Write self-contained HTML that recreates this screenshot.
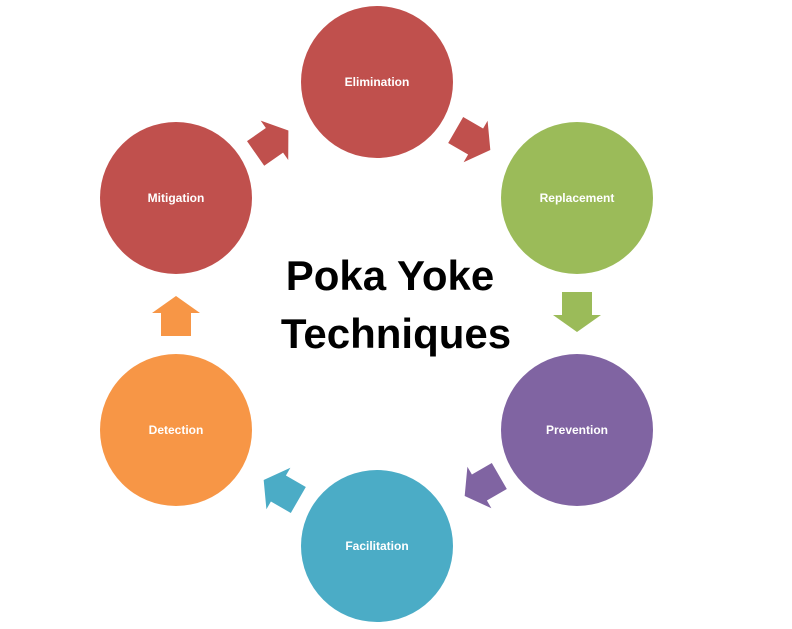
<!DOCTYPE html>
<html><head><style>
html,body{margin:0;padding:0;background:#fff;}
svg{display:block;}
</style></head><body>
<svg width="792" height="629" viewBox="0 0 792 629" xmlns="http://www.w3.org/2000/svg">
<defs>
<path id="ar" d="M-20,-15 L3,-15 L3,-24 L20,0 L3,24 L3,15 L-20,15 Z"/>
</defs>
<g font-family="Liberation Sans, sans-serif" font-weight="bold" font-size="12" fill="#fff" text-anchor="middle">
<circle cx="377" cy="82" r="76" fill="#c0504d"/>
<text x="377" y="86">Elimination</text>
<circle cx="577" cy="198" r="76" fill="#9bbb59"/>
<text x="577" y="202">Replacement</text>
<circle cx="577" cy="430" r="76" fill="#8064a2"/>
<text x="577" y="434">Prevention</text>
<circle cx="377" cy="546" r="76" fill="#4bacc6"/>
<text x="377" y="550">Facilitation</text>
<circle cx="176" cy="430" r="76" fill="#f79646"/>
<text x="176" y="434">Detection</text>
<circle cx="176" cy="198" r="76" fill="#c0504d"/>
<text x="176" y="202">Mitigation</text>
</g>
<use href="#ar" fill="#c0504d" transform="translate(272,142) rotate(-35)"/>
<use href="#ar" fill="#c0504d" transform="translate(473,140) rotate(30)"/>
<use href="#ar" fill="#9bbb59" transform="translate(577,312) rotate(90)"/>
<use href="#ar" fill="#8064a2" transform="translate(482,486) rotate(150)"/>
<use href="#ar" fill="#4bacc6" transform="translate(281,490) rotate(210)"/>
<use href="#ar" fill="#f79646" transform="translate(176,316) rotate(-90)"/>
<g font-family="Liberation Sans, sans-serif" font-weight="bold" font-size="42" fill="#000" text-anchor="middle">
<text x="390" y="290">Poka Yoke</text>
<text x="396" y="348">Techniques</text>
</g>
</svg>
</body></html>
